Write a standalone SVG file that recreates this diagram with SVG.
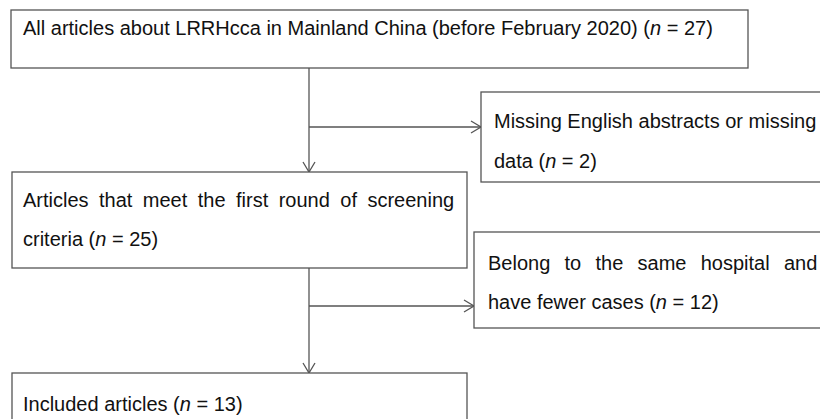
<svg xmlns="http://www.w3.org/2000/svg" width="820" height="419" viewBox="0 0 820 419">
<style>
.box{fill:#fff;stroke:#555;stroke-width:1.3}
.t{font-family:"Liberation Sans",Arial,sans-serif;font-size:20px;fill:#111}
.i{font-style:italic}
.c{fill:none;stroke:#555;stroke-width:1.3}
</style>
<defs>
<marker id="ah" markerUnits="userSpaceOnUse" markerWidth="12" markerHeight="14" refX="10" refY="6" orient="auto" overflow="visible">
<path d="M0,0 L10,6 L0,12" fill="none" stroke="#555" stroke-width="1.3"/>
</marker>
</defs>
<rect width="820" height="419" fill="#fff"/>
<g id="connectors">
<line class="c" x1="309" y1="68" x2="309" y2="172" marker-end="url(#ah)"/>
<line class="c" x1="309" y1="127" x2="481" y2="127" marker-end="url(#ah)"/>
<line class="c" x1="309" y1="268" x2="309" y2="373" marker-end="url(#ah)"/>
<line class="c" x1="309" y1="306" x2="474" y2="306" marker-end="url(#ah)"/>
</g>
<g id="n1">
<rect class="box" x="11" y="10" width="737" height="58"/>
<text class="t" x="23" y="35">All articles about LRRHcca in Mainland China (before February 2020) (<tspan class="i">n</tspan> = 27)</text>
</g>
<g id="n2">
<rect class="box" x="481" y="92" width="350" height="90"/>
<text class="t" x="494" y="128">Missing English abstracts or missing</text>
<text class="t" x="494" y="168">data (<tspan class="i">n</tspan> = 2)</text>
</g>
<g id="n3">
<rect class="box" x="12" y="172" width="455" height="96"/>
<text class="t" x="23" y="207" word-spacing="4.9">Articles that meet the first round of screening</text>
<text class="t" x="23" y="246">criteria (<tspan class="i">n</tspan> = 25)</text>
</g>
<g id="n4">
<rect class="box" x="474" y="232" width="360" height="96"/>
<text class="t" x="488" y="270" word-spacing="8.7">Belong to the same hospital and</text>
<text class="t" x="488" y="309">have fewer cases (<tspan class="i">n</tspan> = 12)</text>
</g>
<g id="n5">
<rect class="box" x="12" y="373" width="455" height="60"/>
<text class="t" x="23" y="411">Included articles (<tspan class="i">n</tspan> = 13)</text>
</g>
</svg>
